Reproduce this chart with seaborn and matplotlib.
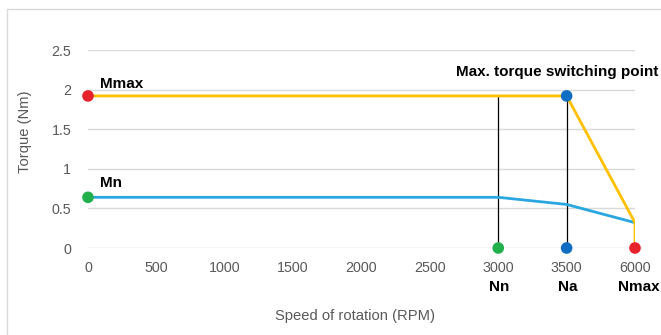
import matplotlib
matplotlib.use("Agg")
import matplotlib.pyplot as plt
from matplotlib.lines import Line2D
import seaborn as sns
import pandas as pd

# ---- data ----
speed_labels = ["0", "500", "1000", "1500", "2000", "2500", "3000", "3500", "6000"]
rated_torque = [0.64, 0.64, 0.64, 0.64, 0.64, 0.64, 0.64, 0.55, 0.32]
max_speed = ["0", "3500", "6000", "6000"]
max_torque = [1.92, 1.92, 0.32, 0.0]
ytick_values = [0, 0.5, 1, 1.5, 2, 2.5]
ytick_labels = ["0", "0.5", "1", "1.5", "2", "2.5"]
point_speed = ["0", "0", "3000", "3500", "3500", "6000"]
point_torque = [1.92, 0.64, 0.0, 1.92, 0.0, 0.0]
point_kind = ["Mmax", "Mn", "Nn", "Na_top", "Na", "Nmax"]
vline_speed = ["3000", "3500"]
vline_top = [1.92, 1.92]
speed_names = ["Nn", "Na", "Nmax"]
speed_name_at = ["3000", "3500", "6000"]

ORANGE = "#FFC000"
BLUE = "#2AA7E1"
point_colors = {"Mmax": "#E8222B", "Mn": "#22B04C", "Nn": "#22B04C",
                "Na_top": "#0F6EC2", "Na": "#0F6EC2", "Nmax": "#E8222B"}

pos = {s: i for i, s in enumerate(speed_labels)}

sns.set_theme(style="white")
plt.rcParams["font.family"] = ["Liberation Sans", "DejaVu Sans"]

fig = plt.figure(figsize=(6.61, 3.35), dpi=100)
ax = fig.add_axes([88 / 661, 1 - 248 / 335, (635 - 88) / 661, (248 - 50) / 335])

df_rated = pd.DataFrame({"x": [pos[s] for s in speed_labels], "y": rated_torque})
df_max = pd.DataFrame({"x": [pos[s] for s in max_speed], "y": max_torque})
df_pts = pd.DataFrame({"x": [pos[s] for s in point_speed], "y": point_torque, "k": point_kind})

# vertical black drop lines
for s, top in zip(vline_speed, vline_top):
    ax.plot([pos[s], pos[s]], [0, top], color="black", lw=0.9, zorder=3)

sns.lineplot(data=df_rated, x="x", y="y", color=BLUE, lw=2.0, sort=False,
             estimator=None, ax=ax, zorder=4)
sns.lineplot(data=df_max, x="x", y="y", color=ORANGE, lw=2.0, sort=False,
             estimator=None, ax=ax, zorder=4)
sns.scatterplot(data=df_pts, x="x", y="y", hue="k", palette=point_colors,
                s=70, edgecolor="none", legend=False, ax=ax, zorder=6, clip_on=False)

ax.set_xlim(0, len(speed_labels) - 1)
ax.set_ylim(0, 2.5)
ax.set_xticks(range(len(speed_labels)))
ax.set_xticklabels(speed_labels)
ax.set_yticks(ytick_values)
ax.set_yticklabels(ytick_labels)
ax.tick_params(axis="both", length=0, labelsize=10.3, labelcolor="#595959")
ax.tick_params(axis="x", pad=9)
ax.tick_params(axis="y", pad=12)
ax.grid(axis="y", color="#D9D9D9", lw=1.0)
ax.grid(axis="x", visible=False)
for sp in ax.spines.values():
    sp.set_visible(False)

ax.set_xlabel("Speed of rotation (RPM)", fontsize=10.6, color="#595959", va="center")
ax.xaxis.set_label_coords((355 - 88) / 547, (248 - 316) / 198)
ax.set_ylabel("Torque (Nm)", fontsize=10.6, color="#595959", va="center")
ax.yaxis.set_label_coords((25 - 88) / 547, (248 - 132) / 198)

bold = dict(fontsize=11, fontweight="bold", color="black")
ax.annotate("Mmax", xy=(pos["0"], 1.92), xytext=(12, 12), textcoords="offset pixels",
            ha="left", va="center", **bold)
ax.annotate("Mn", xy=(pos["0"], 0.64), xytext=(12, 14), textcoords="offset pixels",
            ha="left", va="center", **bold)
ax.annotate("Max. torque switching point", xy=(pos["3500"], 1.92), xytext=(92, 24),
            textcoords="offset pixels", ha="right", va="center", annotation_clip=False, **bold)
for name, s, dx in zip(speed_names, speed_name_at, [1, 1, 4]):
    ax.annotate(name, xy=(pos[s], 0), xytext=(dx, -39), textcoords="offset pixels",
                ha="center", va="center", annotation_clip=False, **bold)

# chart border (top and left)
fig.add_artist(Line2D([7 / 661, 7 / 661], [0, 1 - 9 / 335], transform=fig.transFigure,
                      color="#D9D9D9", lw=1))
fig.add_artist(Line2D([7 / 661, 1], [1 - 9 / 335, 1 - 9 / 335], transform=fig.transFigure,
                      color="#D9D9D9", lw=1))

fig.savefig("out.png", dpi=100)
